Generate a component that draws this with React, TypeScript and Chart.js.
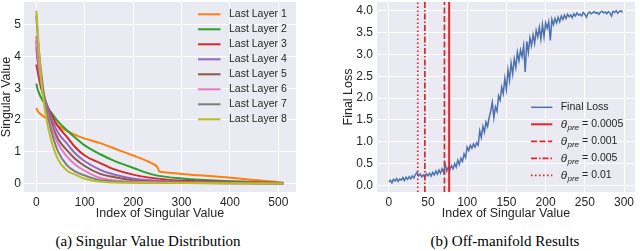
import React, { useEffect, useRef } from 'react';
import { Chart, registerables } from 'chart.js';
Chart.register(...registerables);

const FONT = '"Liberation Sans", Arial, Helvetica, sans-serif';
const TEXT = '#262626';
const BG = '#eaeaf2';

// ---------- (a) Singular value distribution ----------
const layerLabels = ['Last Layer 1', 'Last Layer 2', 'Last Layer 3', 'Last Layer 4', 'Last Layer 5', 'Last Layer 6', 'Last Layer 7', 'Last Layer 8'];
const layerColors = ['#ff7f0e', '#2ca02c', '#d62728', '#9467bd', '#8c564b', '#e377c2', '#7f7f7f', '#bcbd22'];

const layer1 = [[0, 2.38], [3, 2.28], [8, 2.2], [18, 2.08], [29, 1.98], [45, 1.82], [63, 1.66], [90, 1.47], [132, 1.27], [170, 1.05], [200, 0.88], [230, 0.7], [243, 0.6], [248, 0.55], [251, 0.48], [254, 0.38], [260, 0.36], [300, 0.3], [350, 0.24], [409, 0.17], [450, 0.11], [500, 0.04], [511, 0.02]];
const layer2 = [[0, 3.15], [3, 2.95], [10, 2.7], [20, 2.45], [30, 2.25], [45, 1.95], [63, 1.68], [80, 1.45], [100, 1.2], [132, 0.92], [160, 0.72], [202, 0.48], [243, 0.27], [305, 0.15], [409, 0.07], [511, 0.01]];
const layer3 = [[0, 3.75], [3, 3.5], [10, 3.0], [20, 2.55], [30, 2.2], [45, 1.8], [63, 1.47], [80, 1.15], [100, 0.88], [132, 0.64], [160, 0.45], [202, 0.27], [270, 0.12], [340, 0.07], [420, 0.04], [511, 0.01]];
const layer4 = [[0, 4.3], [3, 3.8], [10, 3.15], [20, 2.55], [30, 2.1], [45, 1.6], [63, 1.26], [80, 0.95], [100, 0.7], [132, 0.43], [160, 0.28], [202, 0.15], [270, 0.07], [350, 0.04], [511, 0.01]];
const layer5 = [[0, 4.5], [3, 3.9], [10, 3.1], [20, 2.45], [30, 1.95], [45, 1.4], [63, 1.05], [80, 0.78], [100, 0.55], [132, 0.3], [160, 0.2], [202, 0.09], [270, 0.04], [511, 0.0]];
const layer6 = [[0, 4.65], [3, 4.0], [10, 3.2], [20, 2.4], [30, 1.85], [45, 1.25], [63, 0.85], [80, 0.6], [100, 0.4], [132, 0.17], [160, 0.1], [202, 0.05], [300, 0.02], [511, 0.0]];
const layer7 = [[0, 5.3], [3, 4.6], [10, 3.5], [20, 2.4], [30, 1.7], [45, 1.0], [63, 0.58], [80, 0.38], [100, 0.25], [132, 0.1], [160, 0.06], [202, 0.03], [300, 0.01], [511, 0.0]];
const layer8 = [[0, 5.45], [2, 5.0], [5, 4.3], [10, 3.3], [15, 2.6], [20, 2.1], [30, 1.4], [45, 0.75], [63, 0.41], [80, 0.28], [100, 0.15], [132, 0.05], [160, 0.03], [202, 0.02], [511, 0.0]];
const layers = [layer1, layer2, layer3, layer4, layer5, layer6, layer7, layer8];

const xTicksA = [0, 100, 200, 300, 400, 500];
const yTicksA = [0, 1, 2, 3, 4, 5];
const xRangeA = [-25.5, 536.5];
const yRangeA = [-0.27, 5.72];

// ---------- (b) Off-manifold results ----------
const lossStep = 2;
const lossValues = [
  0.08, 0.12, 0.06, 0.14, 0.10, 0.16, 0.09, 0.15, 0.12, 0.18,
  0.11, 0.19, 0.14, 0.20, 0.15, 0.22, 0.17, 0.25, 0.30, 0.22,
  0.26, 0.20, 0.24, 0.19, 0.27, 0.22, 0.28, 0.21, 0.30, 0.24,
  0.33, 0.26, 0.35, 0.28, 0.38, 0.30, 0.48, 0.33, 0.42, 0.36,
  0.45, 0.38, 0.50, 0.42, 0.58, 0.48, 0.62, 0.55, 0.72, 0.64,
  0.88, 0.80, 0.92, 0.85, 0.95, 0.88, 0.98, 0.92, 1.25, 1.10,
  1.35, 1.22, 1.45, 1.35, 1.55, 1.70, 1.90, 1.55, 1.80, 1.70,
  2.05, 1.95, 2.25, 2.10, 2.45, 2.20, 2.65, 2.40, 2.80, 2.55,
  2.90, 2.70, 3.05, 2.85, 3.10, 2.95, 3.20, 2.60, 3.30, 3.05,
  3.38, 3.20, 3.45, 3.25, 3.55, 3.40, 3.62, 3.35, 3.68, 3.40,
  3.72, 3.60, 3.75, 3.32, 3.80, 3.68, 3.82, 3.72, 3.85, 3.75,
  3.88, 3.80, 3.90, 3.82, 3.92, 3.86, 3.90, 3.84, 3.93, 3.88,
  3.95, 3.90, 3.92, 3.88, 3.96, 3.92, 3.85, 3.94, 3.97, 3.93,
  3.95, 3.98, 3.94, 3.96, 3.92, 3.97, 3.99, 3.95, 3.97, 3.93,
  3.98, 3.95, 3.88, 3.99, 3.96, 4.00, 3.94, 3.98, 4.00, 3.96,
];
const thetaValues = ['0.0005', '0.001', '0.005', '0.01'];
const thetaIndex = [77, 71, 46, 37];
const thetaDash = [[], [6, 2.5], [6, 2, 1.5, 2], [1.6, 2.4]];
const thetaWidth = [2, 1.7, 1.7, 1.7];
const RED = '#e3242b';

const xTicksB = [0, 50, 100, 150, 200, 250, 300];
const yTicksB = [0, 0.5, 1, 1.5, 2, 2.5, 3, 3.5, 4];
const xRangeB = [-15, 314];
const yRangeB = [-0.15, 4.2];

// ---------- plugins ----------
const bgPlugin = {
  id: 'plotBg',
  beforeDraw(chart: any) {
    const { ctx, chartArea: a } = chart;
    ctx.save();
    ctx.fillStyle = BG;
    ctx.fillRect(a.left, a.top, a.right - a.left, a.bottom - a.top);
    ctx.restore();
  },
};

function drawMathLabel(ctx: CanvasRenderingContext2D, value: string, x: number, y: number) {
  ctx.font = `italic 11.5px ${FONT}`;
  ctx.fillText('θ', x, y);
  x += ctx.measureText('θ').width + 0.5;
  ctx.font = `italic 8px ${FONT}`;
  ctx.fillText('pre', x, y + 3);
  x += ctx.measureText('pre').width + 3;
  ctx.font = `10.5px ${FONT}`;
  ctx.fillText('=', x, y);
  x += ctx.measureText('=').width + 3;
  ctx.fillText(value, x, y);
}

const innerLegend = {
  id: 'innerLegend',
  afterDatasetsDraw(chart: any, _args: any, opts: any) {
    const { ctx, chartArea } = chart;
    const ds = chart.data.datasets;
    ctx.save();
    ctx.textBaseline = 'middle';
    ctx.textAlign = 'left';
    ctx.fillStyle = TEXT;
    opts.entries.forEach((idx: number, row: number) => {
      const d = ds[idx];
      const y = chartArea.top + opts.top + row * opts.gap;
      const x0 = chartArea.right - opts.fromRight;
      ctx.strokeStyle = d.borderColor;
      ctx.lineWidth = d.borderWidth;
      ctx.setLineDash(d.borderDash || []);
      ctx.beginPath();
      ctx.moveTo(x0, y);
      ctx.lineTo(x0 + opts.lineLen, y);
      ctx.stroke();
      ctx.setLineDash([]);
      const tx = x0 + opts.textOffset;
      ctx.fillStyle = TEXT;
      if (d.mathValue) {
        drawMathLabel(ctx, d.mathValue, tx, y);
      } else {
        ctx.font = `10.5px ${FONT}`;
        ctx.fillText(d.label, tx, y);
      }
    });
    ctx.restore();
  },
};

function linAxis(range: number[], ticks: number[], fmt: (v: number) => string, title: string, horiz: boolean, size: number, titlePad: any, tickPad: number) {
  return {
    type: 'linear',
    min: range[0],
    max: range[1],
    afterBuildTicks: (scale: any) => {
      scale.ticks = ticks.map((v) => ({ value: v }));
    },
    afterFit: (scale: any) => {
      if (horiz) scale.height = size;
      else scale.width = size;
      scale.paddingTop = 0;
      scale.paddingBottom = 0;
      scale.paddingLeft = 0;
      scale.paddingRight = 0;
    },
    grid: { color: '#ffffff', lineWidth: 1, drawTicks: false },
    border: { display: false },
    ticks: {
      color: TEXT,
      font: { family: FONT, size: 12 },
      padding: tickPad,
      maxRotation: 0,
      autoSkip: false,
      callback: (v: any) => fmt(Number(v)),
    },
    title: {
      display: true,
      text: title,
      color: TEXT,
      font: { family: FONT, size: 12.5, lineHeight: 1 },
      padding: titlePad,
    },
  };
}

function ChartA() {
  const ref = useRef<HTMLCanvasElement>(null);
  useEffect(() => {
    const datasets: any[] = layers.map((pts, i) => ({
      label: layerLabels[i],
      data: pts.map(([x, y]) => ({ x, y })),
      borderColor: layerColors[i],
      borderWidth: 2,
      pointRadius: 0,
      fill: false,
      cubicInterpolationMode: 'monotone',
      order: 8 - i,
    }));
    const chart = new Chart(ref.current!, {
      type: 'line',
      data: { datasets },
      options: {
        animation: false,
        responsive: false,
        devicePixelRatio: 1,
        layout: { padding: { left: 0, right: 24, top: 2, bottom: 0 } },
        plugins: {
          legend: { display: false },
          tooltip: { enabled: false },
          innerLegend: { entries: [0, 1, 2, 3, 4, 5, 6, 7], top: 12.3, gap: 15, fromRight: 98, lineLen: 22.5, textOffset: 31 },
        } as any,
        scales: {
          x: linAxis(xRangeA, xTicksA, (v) => String(v), 'Index of Singular Value', true, 33, { top: 0, bottom: 5 }, 3) as any,
          y: linAxis(yRangeA, yTicksA, (v) => String(v), 'Singular Value', false, 24, { top: 0, bottom: 0 }, 3) as any,
        },
      },
      plugins: [bgPlugin, innerLegend],
    });
    return () => chart.destroy();
  }, []);
  return <canvas ref={ref} width={320} height={225} style={{ position: 'absolute', left: 0, top: 0 }} />;
}

function ChartB() {
  const ref = useRef<HTMLCanvasElement>(null);
  useEffect(() => {
    const datasets: any[] = [
      {
        label: 'Final Loss',
        data: lossValues.map((v, i) => ({ x: i * lossStep, y: v })),
        borderColor: '#4c72b0',
        borderWidth: 1.5,
        pointRadius: 0,
        fill: false,
        order: 5,
      },
      ...thetaValues.map((val, i) => ({
        label: 'θpre = ' + val,
        mathValue: val,
        data: [{ x: thetaIndex[i], y: yRangeB[0] }, { x: thetaIndex[i], y: yRangeB[1] }],
        borderColor: RED,
        borderWidth: thetaWidth[i],
        borderDash: thetaDash[i],
        pointRadius: 0,
        fill: false,
        order: 1,
      })),
    ];
    const chart = new Chart(ref.current!, {
      type: 'line',
      data: { datasets },
      options: {
        animation: false,
        responsive: false,
        devicePixelRatio: 1,
        layout: { padding: { left: 0, right: 5, top: 2, bottom: 0 } },
        plugins: {
          legend: { display: false },
          tooltip: { enabled: false },
          innerLegend: { entries: [0, 1, 2, 3, 4], top: 105.3, gap: 17, fromRight: 104, lineLen: 21.3, textOffset: 29.7 },
        } as any,
        scales: {
          x: linAxis(xRangeB, xTicksB, (v) => String(v), 'Index of Singular Value', true, 33, { top: 0, bottom: 5 }, 3) as any,
          y: linAxis(yRangeB, yTicksB, (v) => v.toFixed(1), 'Final Loss', false, 57, { top: 22, bottom: 0 }, 4) as any,
        },
      },
      plugins: [bgPlugin, innerLegend],
    });
    return () => chart.destroy();
  }, []);
  return <canvas ref={ref} width={320} height={225} style={{ position: 'absolute', left: 320, top: 0 }} />;
}

const captionStyle: React.CSSProperties = {
  position: 'absolute',
  top: 232,
  fontFamily: '"Liberation Serif", "Times New Roman", serif',
  fontSize: 15,
  lineHeight: '18px',
  color: '#000',
  textAlign: 'center',
  whiteSpace: 'nowrap',
};

export default function App() {
  return (
    <div style={{ position: 'fixed', left: 0, top: 0, width: 640, height: 251, background: '#fff', overflow: 'hidden' }}>
      <ChartA />
      <ChartB />
      <div style={{ ...captionStyle, left: 0, width: 296 }}>(a) Singular Value Distribution</div>
      <div style={{ ...captionStyle, left: 385, width: 240 }}>(b) Off-manifold Results</div>
    </div>
  );
}
